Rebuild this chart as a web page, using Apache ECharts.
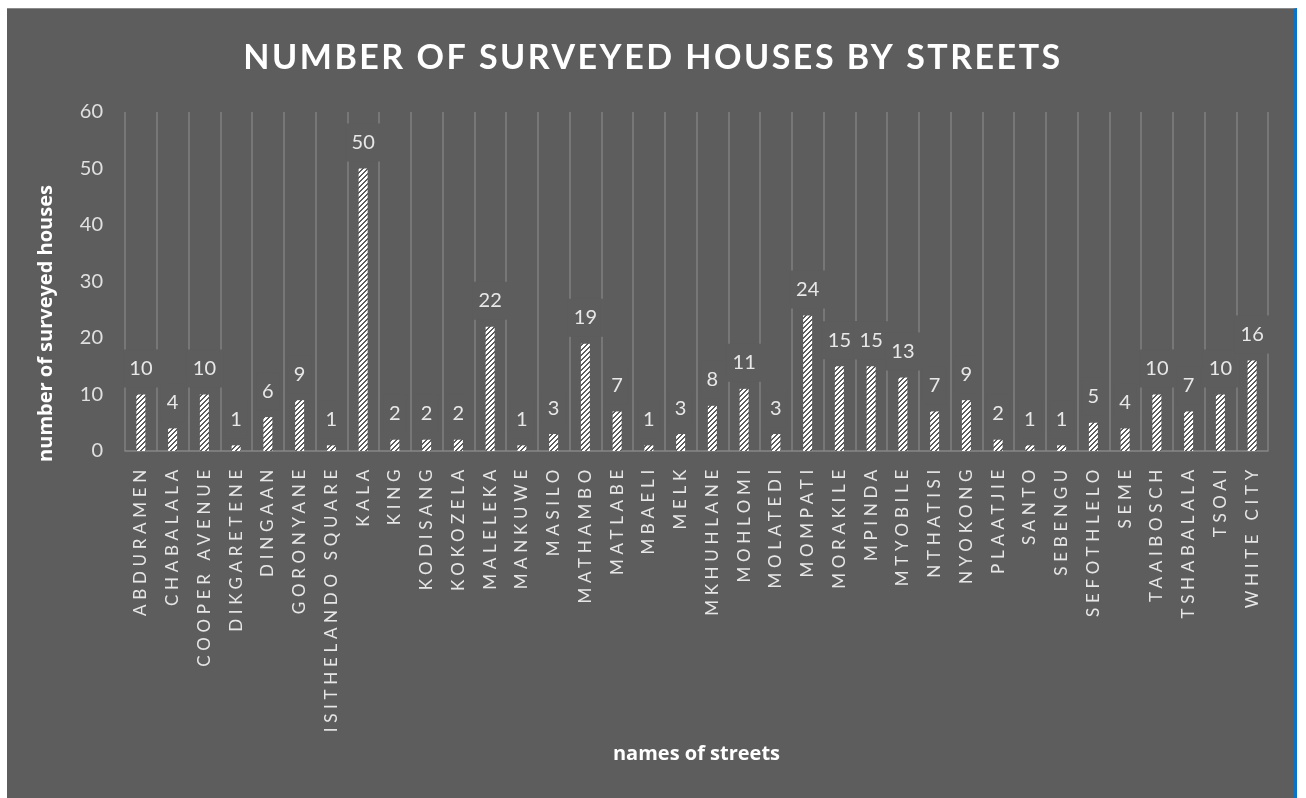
<!DOCTYPE html>
<html>
<head>
<meta charset="utf-8">
<script src="https://cdn.jsdelivr.net/npm/echarts@6/dist/echarts.min.js"></script>
<style>
  html, body { margin: 0; padding: 0; background: #ffffff; }
  #frame {
    position: absolute; left: 7px; top: 8px; width: 1290px; height: 790px;
    background: #5d5d5d; border-top: 1px solid #8a8a8a; border-right: 4px solid #0872c6;
    box-sizing: border-box;
  }
  #chart { position: absolute; left: 0; top: 0; width: 1306px; height: 798px; }
</style>
</head>
<body>
<div id="frame"></div>
<div id="chart"></div>
<script>
// Streets and the number of houses surveyed on each
const streets = [
  'ABDURAMEN', 'CHABALALA', 'COOPER AVENUE', 'DIKGARETENE', 'DINGAAN', 'GORONYANE',
  'ISITHELANDO SQUARE', 'KALA', 'KING', 'KODISANG', 'KOKOZELA', 'MALELEKA',
  'MANKUWE', 'MASILO', 'MATHAMBO', 'MATLABE', 'MBAELI', 'MELK',
  'MKHUHLANE', 'MOHLOMI', 'MOLATEDI', 'MOMPATI', 'MORAKILE', 'MPINDA',
  'MTYOBILE', 'NTHATISI', 'NYOKONG', 'PLAATJIE', 'SANTO', 'SEBENGU',
  'SEFOTHLELO', 'SEME', 'TAAIBOSCH', 'TSHABALALA', 'TSOAI', 'WHITE CITY'
];
const houses = [
  10, 4, 10, 1, 6, 9,
  1, 50, 2, 2, 2, 22,
  1, 3, 19, 7, 1, 3,
  8, 11, 3, 24, 15, 15,
  13, 7, 9, 2, 1, 1,
  5, 4, 10, 7, 10, 16
];
const yTicks = { min: 0, max: 60, interval: 10 };

const BG = '#5d5d5d';

// Letter-spaced text for the title and the street names (keyed on font size)
(function () {
  const proto = CanvasRenderingContext2D.prototype;
  const origFill = proto.fillText;
  proto.fillText = function (t, x, y, m) {
    const f = this.font || '';
    let ls = '0px';
    if (f.indexOf('17px') >= 0) ls = '4.7px';
    else if (f.indexOf('34px') >= 0) ls = '2.5px';
    this.letterSpacing = ls;
    if (m === undefined) origFill.call(this, t, x, y); else origFill.call(this, t, x, y, m);
    this.letterSpacing = '0px';
  };
})();

// Upward diagonal hatch used to fill the bars
function hatch() {
  const c = document.createElement('canvas');
  c.width = 10; c.height = 10;
  const g = c.getContext('2d');
  const img = g.createImageData(10, 10);
  for (let y = 0; y < 10; y++) {
    for (let x = 0; x < 10; x++) {
      const i = (y * 10 + x) * 4;
      const dark = ((x + y) % 5) < 2;
      const v = dark ? 0x5d : 0xff;
      img.data[i] = v; img.data[i + 1] = v; img.data[i + 2] = v; img.data[i + 3] = 255;
    }
  }
  g.putImageData(img, 0, 0);
  return c;
}

const chart = echarts.init(document.getElementById('chart'), null, { renderer: 'canvas' });
chart.setOption({
  animation: false,
  backgroundColor: 'transparent',
  title: {
    text: 'NUMBER OF SURVEYED HOUSES BY STREETS',
    left: 648, top: 36, textAlign: 'center',
    textStyle: { color: '#ffffff', fontFamily: 'Lato', fontWeight: 'bold', fontSize: 34 }
  },
  grid: { left: 125, right: 38, top: 112, bottom: 347 },
  xAxis: {
    type: 'category',
    data: streets,
    name: 'names of streets',
    nameLocation: 'middle',
    nameGap: 293,
    nameTextStyle: { color: '#ffffff', fontFamily: 'Open Sans', fontWeight: 'bold', fontSize: 20 },
    axisLine: { lineStyle: { color: '#878787', width: 1.5 } },
    axisTick: { show: false },
    splitLine: { show: true, interval: 0, lineStyle: { color: '#808080', width: 1.5 } },
    axisLabel: {
      interval: 0, rotate: 90, margin: 14,
      color: '#e6e6e6', fontFamily: 'Lato', fontSize: 17
    }
  },
  yAxis: {
    type: 'value',
    min: yTicks.min, max: yTicks.max, interval: yTicks.interval,
    name: 'number of surveyed houses',
    nameLocation: 'middle',
    nameGap: 69,
    nameTextStyle: {
      color: '#ffffff', fontFamily: 'Open Sans', fontWeight: 'bold', fontSize: 20,
      padding: [0, 84, 0, 0]
    },
    axisLine: { show: false },
    axisTick: { show: false },
    splitLine: { show: false },
    axisLabel: { color: '#e0e0e0', fontFamily: 'Lato', fontSize: 20, margin: 22 }
  },
  series: [{
    type: 'bar',
    data: houses,
    barWidth: 9,
    itemStyle: { color: { image: hatch(), repeat: 'repeat' } },
    label: {
      show: true, position: 'top', distance: 7,
      color: '#e8e8e8', fontFamily: 'Lato', fontSize: 20,
      backgroundColor: BG, padding: [9, 6, 9, 6]
    }
  }]
});
</script>
</body>
</html>
